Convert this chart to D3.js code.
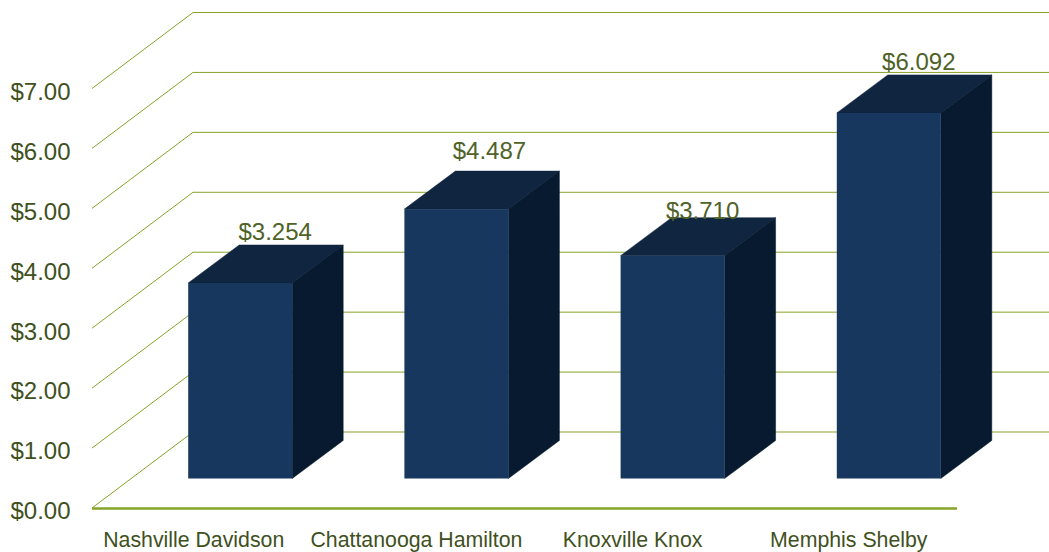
<!DOCTYPE html>
<html>
<head>
<meta charset="utf-8">
<script src="https://cdn.jsdelivr.net/npm/d3@7"></script>
<style>
    body { margin: 0; background: #fff; }
    text { font-family: "Liberation Sans", Arial, sans-serif; }
</style>
</head>
<body>
<div id="chart1"></div>
<script>
var categories = ["Nashville Davidson", "Chattanooga Hamilton", "Knoxville Knox", "Memphis Shelby"];
var values = [3.254, 4.487, 3.71, 6.092];
var yTicks = [0, 1, 2, 3, 4, 5, 6, 7];

var width = 1049, height = 552;

// Depth of the floor, and of the bars standing on it
var floorDepth = { x: 101, y: 76 };
var barDepth = { x: 51, y: 38 };
var barInset = { x: 40, y: 30 }; // front of bar is set back from the front of the floor

// Value labels were hand placed in the original, relative to the back top of each bar
var labelNudge = [[-16, -5], [-18, -12], [-21, 1], [-21, -5]];
var categoryNudge = [-6.5, 0, 0, 0];

var svg = d3.select("#chart1").append("svg")
    .attr("width", width)
    .attr("height", height);

var x = d3.scaleBand()
    .domain(categories)
    .range([92, 957])
    .paddingInner(0.519)
    .paddingOuter(0.26);

var y = d3.scaleLinear()
    .domain([0, 7])
    .range([508, 88.5]);

// Gridlines: diagonal up the side wall, then across the back wall
var grid = svg.append("g").attr("fill", "none").attr("stroke", "#86a32a").attr("stroke-width", 1);
grid.selectAll("path")
    .data(yTicks)
    .enter().append("path")
    .attr("d", function(d) {
        return "M" + x.range()[0] + "," + y(d) +
            "L" + (x.range()[0] + floorDepth.x) + "," + (y(d) - floorDepth.y) +
            "H" + width;
    });

// Front edge of the floor
svg.append("line")
    .attr("x1", x.range()[0])
    .attr("x2", x.range()[1])
    .attr("y1", y(0) + 0.5)
    .attr("y2", y(0) + 0.5)
    .attr("stroke", "#86a32a")
    .attr("stroke-width", 2.5);

// Bars, each one three faces
var bars = svg.selectAll("g.bar")
    .data(values)
    .enter().append("g")
    .attr("class", "bar");

function barBox(d, i) {
    var left = x(categories[i]) + barInset.x;
    return {
        left: left,
        right: left + x.bandwidth(),
        top: y(d) - barInset.y,
        bottom: y(0) - barInset.y + 0.5
    };
}

bars.append("path")
    .attr("fill", "#10253f")
    .attr("stroke", "#10253f")
    .attr("stroke-width", 0.5)
    .attr("d", function(d, i) {
        var b = barBox(d, i);
        return "M" + b.left + "," + b.top +
            "l" + barDepth.x + "," + (-barDepth.y) +
            "H" + (b.right + barDepth.x) +
            "l" + (-barDepth.x) + "," + barDepth.y + "Z";
    });

bars.append("path")
    .attr("fill", "#071a2f")
    .attr("stroke", "#071a2f")
    .attr("stroke-width", 0.5)
    .attr("d", function(d, i) {
        var b = barBox(d, i);
        return "M" + b.right + "," + b.top +
            "l" + barDepth.x + "," + (-barDepth.y) +
            "V" + (b.bottom - barDepth.y) +
            "l" + (-barDepth.x) + "," + barDepth.y + "Z";
    });

bars.append("rect")
    .attr("fill", "#17375e")
    .attr("x", function(d, i) { return barBox(d, i).left; })
    .attr("y", function(d, i) { return barBox(d, i).top; })
    .attr("width", x.bandwidth())
    .attr("height", function(d, i) { var b = barBox(d, i); return b.bottom - b.top; });

// Value labels
bars.append("text")
    .attr("text-anchor", "middle")
    .attr("font-size", 24)
    .attr("fill", "#4f6228")
    .attr("x", function(d, i) { return barBox(d, i).left + x.bandwidth() / 2 + barDepth.x + labelNudge[i][0]; })
    .attr("y", function(d, i) { return barBox(d, i).top - barDepth.y + labelNudge[i][1]; })
    .text(function(d) { return d3.format("$.3f")(d); });

// Axes
var yAxis = d3.axisLeft(y)
    .tickValues(yTicks)
    .tickSize(0)
    .tickPadding(3.5)
    .tickFormat(d3.format("$.2f"));

var yAxisG = svg.append("g")
    .attr("transform", "translate(74,0)")
    .call(yAxis);
yAxisG.select(".domain").remove();
yAxisG.selectAll("text")
    .attr("font-size", 24)
    .attr("fill", "#3f5021")
    .attr("dy", "0.45em")
    .style("font-family", "'Liberation Sans', Arial, sans-serif");

var xAxis = d3.axisBottom(x).tickSize(0).tickPadding(0);
var xAxisG = svg.append("g")
    .attr("transform", "translate(0,532)")
    .call(xAxis);
xAxisG.select(".domain").remove();
xAxisG.selectAll("text")
    .attr("font-size", 21.3)
    .attr("fill", "#3f5021")
    .attr("dx", function(d, i) { return categoryNudge[i]; })
    .style("font-family", "'Liberation Sans', Arial, sans-serif");
</script>
</body>
</html>
